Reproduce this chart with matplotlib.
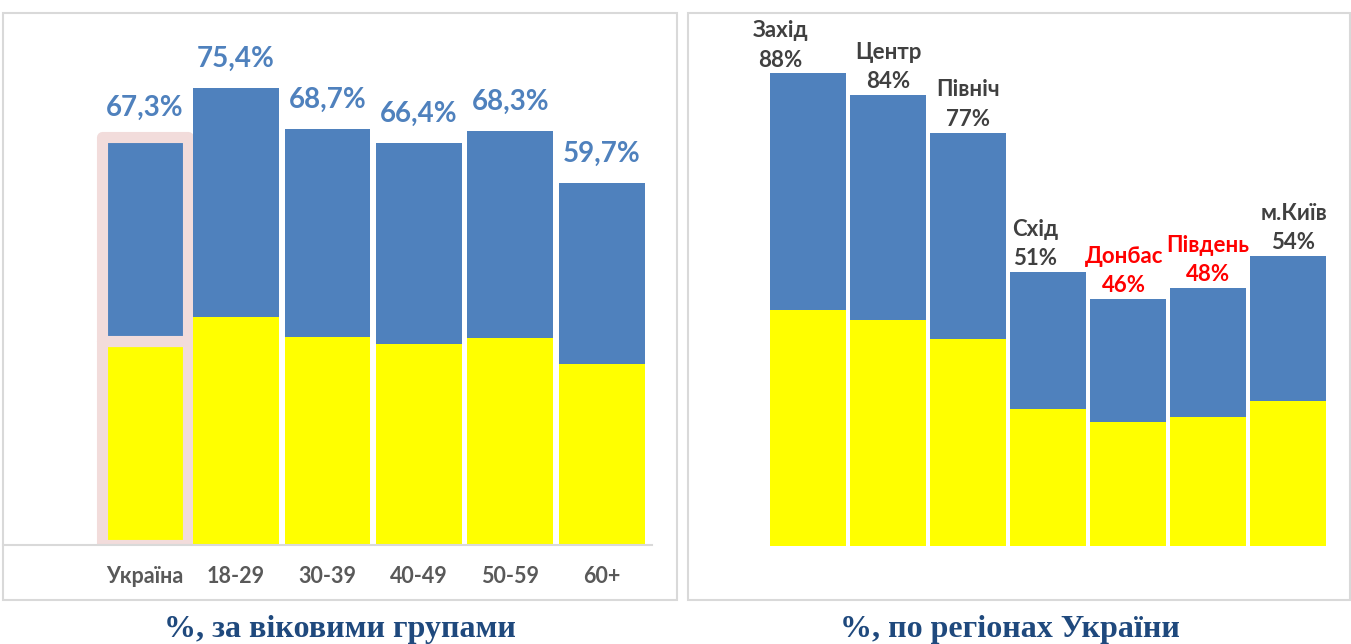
import matplotlib
matplotlib.use('Agg')
import matplotlib.pyplot as plt
from matplotlib.patches import Rectangle

# --- data ---
age_groups = ['Україна', '18-29', '30-39', '40-49', '50-59', '60+']
age_total = [67.3, 75.4, 68.7, 66.4, 68.3, 59.7]
age_yellow = [33.7, 37.7, 34.4, 33.2, 34.2, 29.9]
age_labels = ['67,3%', '75,4%', '68,7%', '66,4%', '68,3%', '59,7%']

regions = ['Захід', 'Центр', 'Північ', 'Схід', 'Донбас', 'Південь', 'м.Київ']
region_total = [88, 84, 77, 51, 46, 48, 54]
region_yellow = [44, 42, 38.5, 25.5, 23, 24, 27]
region_highlight = [False, False, False, False, True, True, False]

# --- style ---
BLUE = '#4F81BD'
YELLOW = '#FFFF00'
PINK = '#F2DCDB'
GRAY_TXT = '#595959'
DARK_TXT = '#404040'
TITLE_BLUE = '#1F497D'
BORDER = '#D9D9D9'
SANS = ['Lato', 'DejaVu Sans']
SERIF = ['Liberation Serif', 'DejaVu Serif']
region_label_dx = [-20, 0, 0, -9, -3, 0, 4]  # points

W, H = 1351, 644
fig = plt.figure(figsize=(W / 100, H / 100), dpi=100, facecolor='white')


def fx(px):
    return px / W


def fy(py):
    return 1 - py / H


# panel frames
for x0, x1 in [(3, 677), (688, 1350)]:
    fig.add_artist(Rectangle((fx(x0), fy(600)), fx(x1 - x0), (600 - 13) / H,
                             transform=fig.transFigure, facecolor='none',
                             edgecolor=BORDER, linewidth=1.5, zorder=0))

# --- left panel: age groups ---
ax1 = fig.add_axes([fx(3), fy(545), fx(649), 545 / H])
xs = range(len(age_groups))
blue_part = [t - y for t, y in zip(age_total, age_yellow)]
for i in xs:
    if i == 0:
        kw = dict(edgecolor=PINK, linewidth=8, joinstyle='round', zorder=1)
    else:
        kw = dict(linewidth=0, zorder=2)
    ax1.bar(i, age_yellow[i], width=0.94, color=YELLOW, **kw)
    ax1.bar(i, blue_part[i], bottom=age_yellow[i], width=0.94, color=BLUE, **kw)
    ax1.annotate(age_labels[i], (i, age_total[i]), xytext=(0, 21),
                 textcoords='offset points', ha='center', va='center',
                 fontsize=20, fontweight='bold', color=BLUE, family=SANS,
                 annotation_clip=False)
ax1.set_xlim(-1.55, 5.55)
ax1.set_ylim(0, 90)
ax1.set_xticks(list(xs))
ax1.set_xticklabels(age_groups, fontsize=15.5, fontweight='bold',
                    color=GRAY_TXT, family=SANS)
ax1.tick_params(axis='x', length=0, pad=15)
ax1.set_yticks([])
for s in ['top', 'left', 'right']:
    ax1.spines[s].set_visible(False)
ax1.spines['bottom'].set_color(BORDER)
ax1.spines['bottom'].set_linewidth(1.5)
ax1.patch.set_alpha(0)

# --- right panel: regions ---
ax2 = fig.add_axes([fx(688), fy(546), fx(662), 537 / H])
xs2 = range(len(regions))
blue_part2 = [t - y for t, y in zip(region_total, region_yellow)]
ax2.bar(xs2, region_yellow, width=0.94, color=YELLOW, linewidth=0)
ax2.bar(xs2, blue_part2, bottom=region_yellow, width=0.94, color=BLUE, linewidth=0)
for i in xs2:
    col = 'red' if region_highlight[i] else DARK_TXT
    ax2.annotate(f'{regions[i]}\n{region_total[i]}%', (i, region_total[i]),
                 xytext=(region_label_dx[i], 2), textcoords='offset points',
                 ha='center', va='bottom', fontsize=16, fontweight='bold',
                 color=col, family=SANS, linespacing=1.5,
                 annotation_clip=False)
ax2.set_xlim(-1.5, 6.775)
ax2.set_ylim(0, 100)
ax2.set_xticks([])
ax2.set_yticks([])
for s in ax2.spines.values():
    s.set_visible(False)
ax2.patch.set_alpha(0)

# --- captions ---
fig.text(fx(340), fy(630), '%, за віковими групами', ha='center', va='center',
         fontsize=23, fontweight='bold', color=TITLE_BLUE, family=SERIF)
fig.text(fx(1010), fy(630), '%, по регіонах України', ha='center', va='center',
         fontsize=23, fontweight='bold', color=TITLE_BLUE, family=SERIF)

fig.savefig('out.png', dpi=100, facecolor='white')
